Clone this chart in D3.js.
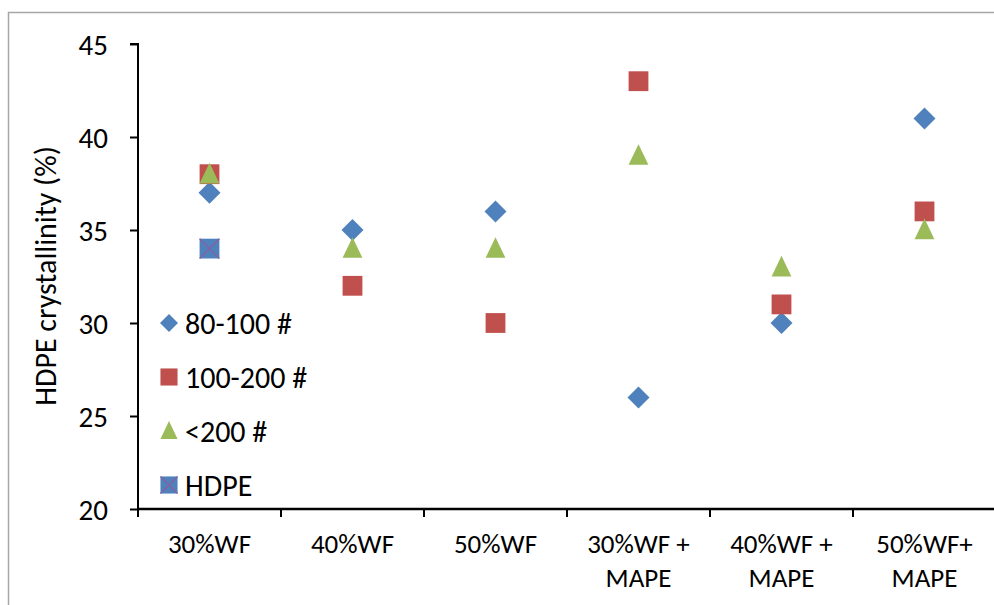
<!DOCTYPE html>
<html><head><meta charset="utf-8">
<script src="https://cdn.jsdelivr.net/npm/d3@7"></script>
<style>body{margin:0;background:#fff}svg{display:block}text{font-family:Carlito,"Open Sans","Noto Sans",sans-serif;fill:#000}</style>
</head><body>
<script>
const categories = [["30%WF"],["40%WF"],["50%WF"],["30%WF +","MAPE"],["40%WF +","MAPE"],["50%WF+","MAPE"]];
const s80_100 = [37,35,36,26,30,41];
const s100_200 = [38,32,30,43,31,36];
const sLt200 = [38,34,34,39,33,35];
const sHDPE = [34,null,null,null,null,null];
const seriesNames = ["80-100 #","100-200 #","<200 #","HDPE"];
const yTicks = [20,25,30,35,40,45];

const W=994,H=605;
const svg=d3.select("body").append("svg").attr("width",W).attr("height",H);
svg.append("rect").attr("x",8.5).attr("y",12.5).attr("width",W).attr("height",H).attr("fill","#fff").attr("stroke","#a6a6a6").attr("stroke-width",1.5);

const pL=138, pR=996, pT=44, pB=509;
const x=d3.scaleBand().domain(d3.range(categories.length)).range([pL,pR]);
const y=d3.scaleLinear().domain([20,45]).range([pB,pT]);

const yAx=svg.append("g").attr("transform",`translate(${pL},0)`)
  .call(d3.axisLeft(y).tickValues(yTicks).tickSize(8).tickPadding(22));
yAx.select(".domain").attr("stroke","#000").attr("stroke-width",2).attr("d",`M-8,${pT}H0V${pB+8}`);
yAx.selectAll(".tick line").attr("stroke","#000").attr("stroke-width",2);
yAx.selectAll(".tick text").style("font-size","29px").attr("dy","0.35em");

const xAx=svg.append("g").attr("transform",`translate(0,${pB})`)
  .call(d3.axisBottom(x).tickSize(0).tickFormat(""));
xAx.select(".domain").attr("stroke","#000").attr("stroke-width",2.5).attr("d",`M${pL},0H${pR}`);
const bounds=d3.range(1,categories.length+1).map(i=>pL+i*x.step());
xAx.selectAll("line.sep").data(bounds).join("line").attr("class","sep")
  .attr("x1",d=>d).attr("x2",d=>d).attr("y1",0).attr("y2",8).attr("stroke","#000").attr("stroke-width",2);
categories.forEach((lines,i)=>{
  const t=svg.append("text").attr("text-anchor","middle").style("font-size","27px")
    .attr("x",x(i)+x.bandwidth()/2).attr("y",553);
  lines.forEach((l,j)=>t.append("tspan").attr("x",x(i)+x.bandwidth()/2).attr("dy",j?34:0).text(l));
});

svg.append("text").attr("transform","translate(45,276) rotate(-90)").attr("text-anchor","middle")
  .attr("dy","0.35em").style("font-size","30px").text("HDPE crystallinity (%)");

const colors={blue:"#4f81bd",red:"#c0504d",green:"#9bbb59",purple:"#8064a2"};
function drawMarker(g,type,cx,cy,s){
  if(type===0){
    g.append("path").attr("d",`M${cx},${cy-s/2}L${cx+s/2},${cy}L${cx},${cy+s/2}L${cx-s/2},${cy}Z`).attr("fill",colors.blue);
  } else if(type===1){
    g.append("rect").attr("x",cx-s*0.45).attr("y",cy-s*0.45).attr("width",s*0.9).attr("height",s*0.9).attr("fill",colors.red);
  } else if(type===2){
    g.append("path").attr("d",`M${cx},${cy-s*0.52}L${cx+s*0.45},${cy+s*0.42}L${cx-s*0.45},${cy+s*0.42}Z`).attr("fill",colors.green);
  } else {
    const h=s*0.45;
    g.append("rect").attr("x",cx-h).attr("y",cy-h).attr("width",2*h).attr("height",2*h).attr("fill",colors.blue);
    g.append("path").attr("d",`M${cx-h},${cy-h}L${cx+h},${cy+h}M${cx+h},${cy-h}L${cx-h},${cy+h}`).attr("stroke",colors.purple).attr("stroke-width",1.5);
  }
}
const allSeries=[s80_100,s100_200,sLt200,sHDPE];
const markG=svg.append("g");
[3,0,1,2].forEach(si=>{
  allSeries[si].forEach((v,i)=>{
    if(v==null) return;
    drawMarker(markG,si,x(i)+x.bandwidth()/2,y(v),22);
  });
});
const legY=[323,377,431,485];
const leg=svg.append("g");
seriesNames.forEach((n,i)=>{
  drawMarker(leg,i,169,legY[i],i===0?18:19);
  leg.append("text").attr("x",185).attr("y",legY[i]).attr("dy","0.35em").style("font-size","30px").text(n);
});
</script>
</body></html>
